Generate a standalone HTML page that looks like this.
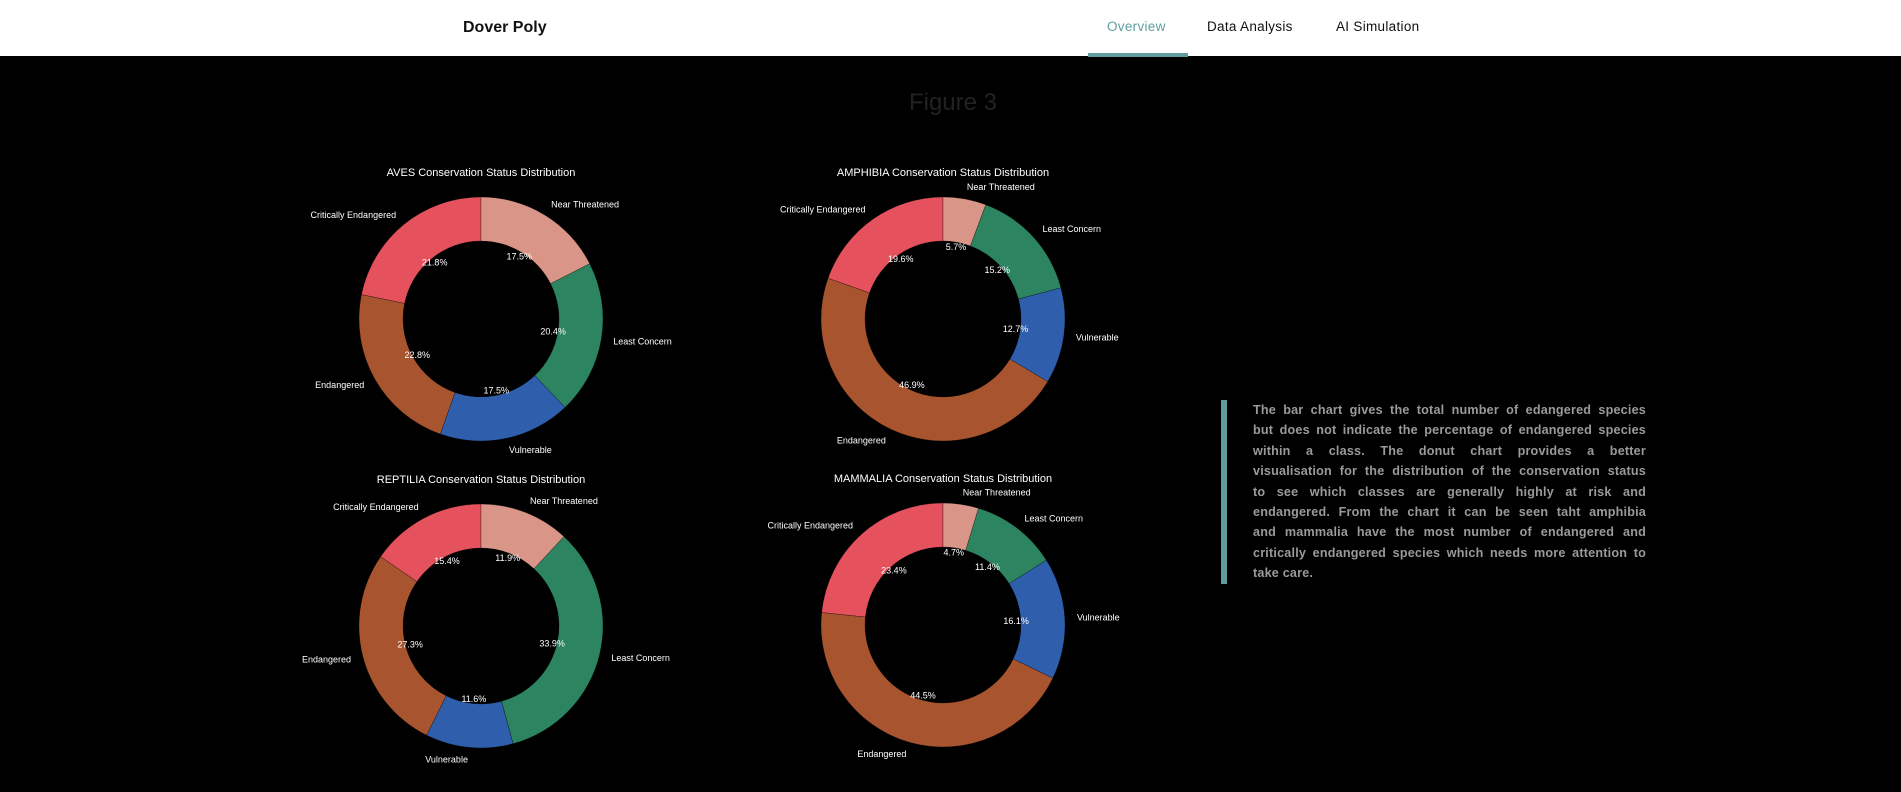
<!DOCTYPE html>
<html><head><meta charset="utf-8">
<style>
html,body{margin:0;padding:0;background:#000;width:1901px;height:792px;overflow:hidden;font-family:"Liberation Sans",sans-serif}
#hdr{position:absolute;left:0;top:0;width:1901px;height:56px;background:#fff}
.nav{position:absolute;top:19px;font-size:13.5px;color:#111;letter-spacing:0.3px}
#txt{position:absolute;left:1253px;top:400px;width:393px;font-size:12.6px;font-weight:bold;color:#9a9a9a;line-height:20.4px;letter-spacing:0.2px}
#txt .l{text-align:justify;text-align-last:justify;white-space:nowrap}
#txt .last{text-align:left;text-align-last:left}
</style></head><body>
<div id="hdr">
<div style="position:absolute;left:463px;top:19px;font-size:16px;font-weight:bold;color:#111">Dover Poly</div>
<div class="nav" style="left:1107px;color:#5f9ea0">Overview</div>
<div class="nav" style="left:1207px">Data Analysis</div>
<div class="nav" style="left:1336px">AI Simulation</div>
<div style="position:absolute;left:1088px;top:53px;width:100px;height:4px;background:#5f9ea0"></div>
</div>
<div style="position:absolute;left:0;width:1906px;top:89px;text-align:center;font-size:24px;color:#222">Figure 3</div>
<svg id="charts" width="1901" height="792" style="position:absolute;left:0;top:0"></svg>
<div style="position:absolute;left:1221px;top:400px;width:6px;height:184px;background:#5f9ea0"></div>
<div id="txt">
<div class="l">The bar chart gives the total number of edangered species</div>
<div class="l">but does not indicate the percentage of endangered species</div>
<div class="l">within a class. The donut chart provides a better</div>
<div class="l">visualisation for the distribution of the conservation status</div>
<div class="l">to see which classes are generally highly at risk and</div>
<div class="l">endangered. From the chart it can be seen taht amphibia</div>
<div class="l">and mammalia have the most number of endangered and</div>
<div class="l">critically endangered species which needs more attention to</div>
<div class="l last">take care.</div>
</div>
<script>
const categories=["Critically Endangered","Endangered","Vulnerable","Least Concern","Near Threatened"];
const classes=["AVES","AMPHIBIA","REPTILIA","MAMMALIA"];
const avesValues=[21.8,22.8,17.5,20.4,17.5];
const amphibiaValues=[19.6,46.9,12.7,15.2,5.7];
const reptiliaValues=[15.4,27.3,11.6,33.9,11.9];
const mammaliaValues=[23.4,44.5,16.1,11.4,4.7];
const colors=["#e5525e","#a8552f","#2f5fac","#2c8461","#d99588"];
const layout=[[481,319],[943,319],[481,626],[943,625]];
const allValues=[avesValues,amphibiaValues,reptiliaValues,mammaliaValues];
const svg=document.getElementById('charts');
const NS="http://www.w3.org/2000/svg";
const R=122,RI=78;
function pt(cx,cy,r,a){return [cx+r*Math.cos(a),cy-r*Math.sin(a)];}
function txt(x,y,s,anchor,size){const t=document.createElementNS(NS,'text');t.setAttribute('x',x);t.setAttribute('y',y);t.setAttribute('fill','#fff');t.setAttribute('font-size',size);t.setAttribute('text-anchor',anchor);t.setAttribute('dominant-baseline','central');t.setAttribute('font-family','Liberation Sans, sans-serif');t.textContent=s;svg.appendChild(t);return t;}
classes.forEach((cls,ci)=>{
  const [cx,cy]=layout[ci];const vals=allValues[ci];
  const tot=vals.reduce((a,b)=>a+b,0);
  const title=txt(cx,cy-146,cls+" Conservation Status Distribution","middle",11);
  
  
  let a=Math.PI/2;
  vals.forEach((v,i)=>{
    const da=v/tot*2*Math.PI;const a2=a+da;
    const p1=pt(cx,cy,R,a),p2=pt(cx,cy,R,a2),p3=pt(cx,cy,RI,a2),p4=pt(cx,cy,RI,a);
    const lg=da>Math.PI?1:0;
    const path=document.createElementNS(NS,'path');
    path.setAttribute('d',`M${p1[0]},${p1[1]} A${R},${R} 0 ${lg} 0 ${p2[0]},${p2[1]} L${p3[0]},${p3[1]} A${RI},${RI} 0 ${lg} 1 ${p4[0]},${p4[1]} Z`);
    path.setAttribute('fill',colors[i]);
    path.setAttribute('stroke','#000');path.setAttribute('stroke-width','0.3');
    
    
    svg.appendChild(path);
    const mid=(a+a2)/2;
    const lp=pt(cx,cy,R*1.1,mid);
    const l=txt(lp[0],lp[1],categories[i],Math.cos(mid)<0?'end':'start',9);
    
    
    const pp=pt(cx,cy,R*0.6,mid);
    const p=txt(pp[0],pp[1],v.toFixed(1)+"%","middle",9);
    
    
    a=a2;
  });
});
</script>
</body></html>
